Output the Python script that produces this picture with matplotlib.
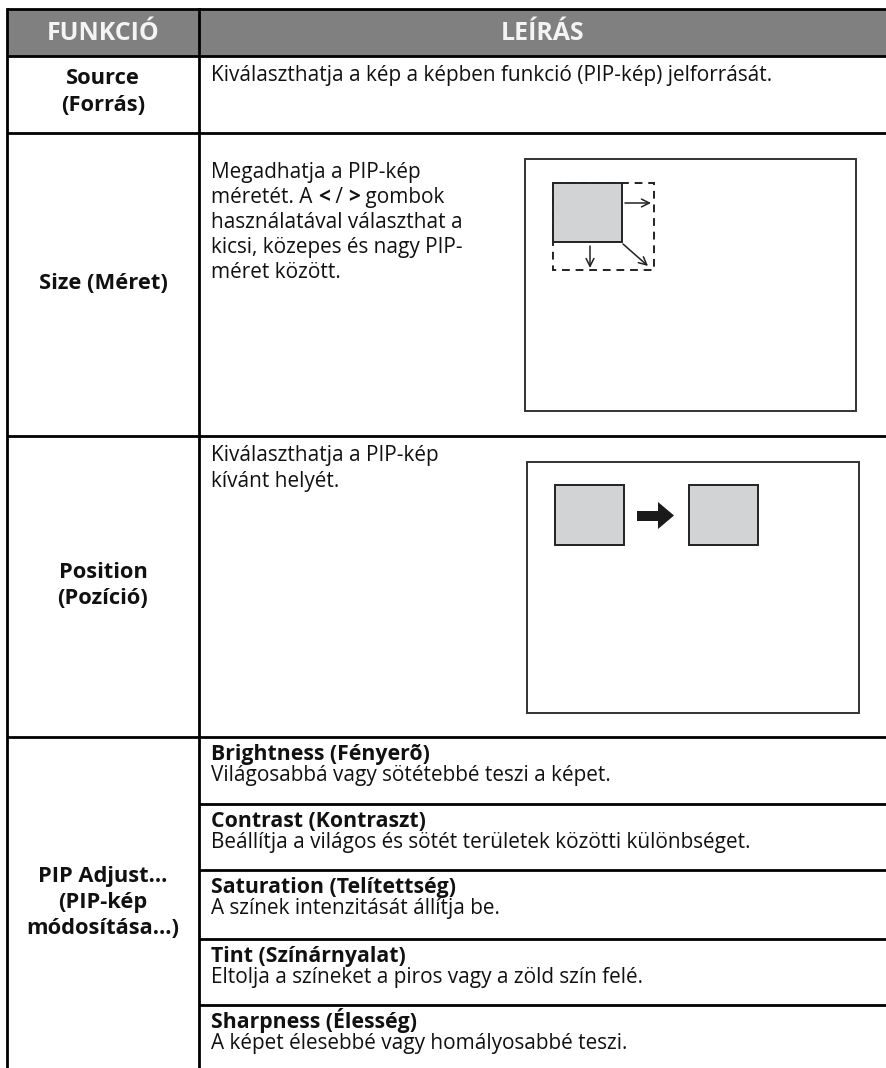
import matplotlib
matplotlib.use("Agg")
import matplotlib.pyplot as plt
from matplotlib.patches import Rectangle, Polygon

plt.rcParams['font.family'] = ['Open Sans', 'DejaVu Sans']

# ---- table content ----
headers = ["FUNKCIÓ", "LEÍRÁS"]
functions = [["Source", "(Forrás)"],
             ["Size (Méret)"],
             ["Position", "(Pozíció)"],
             ["PIP Adjust...", "(PIP-kép", "módosítása...)"]]
source_desc = "Kiválaszthatja a kép a képben funkció (PIP-kép) jelforrását."
size_desc = ["Megadhatja a PIP-kép",
             [("méretét. A ", "normal"), ("<", "bold"), (" / ", "normal"),
              (">", "bold"), (" gombok", "normal")],
             "használatával választhat a",
             "kicsi, közepes és nagy PIP-",
             "méret között."]
position_desc = ["Kiválaszthatja a PIP-kép", "kívánt helyét."]
pip_items = ["Brightness (Fényerõ)", "Contrast (Kontraszt)",
             "Saturation (Telítettség)", "Tint (Színárnyalat)",
             "Sharpness (Élesség)"]
pip_desc = ["Világosabbá vagy sötétebbé teszi a képet.",
            "Beállítja a világos és sötét területek közötti különbséget.",
            "A színek intenzitását állítja be.",
            "Eltolja a színeket a piros vagy a zöld szín felé.",
            "A képet élesebbé vagy homályosabbé teszi."]

# ---- layout (pixels) ----
W, H = 886, 1068
x_left, x_div, x_text = 7, 199, 211
row_edges = [9, 56, 133, 436, 737]
sub_edges = [737, 804, 870, 939, 1005]
col1_x = (x_left + x_div) / 2
TXT = '#111111'

fig = plt.figure(figsize=(W / 100, H / 100), dpi=100)
ax = fig.add_axes([0, 0, 1, 1])
ax.set_xlim(0, W)
ax.set_ylim(H, 0)
ax.axis('off')
renderer = fig.canvas.get_renderer()


def fit_size(s, weight, target_px, base=12):
    # font size that makes string s about target_px wide
    t = ax.text(0, 0, s, fontsize=base, fontweight=weight)
    w = t.get_window_extent(renderer=renderer).width
    t.remove()
    return base * target_px / w


FS = fit_size(source_desc, 'normal', 558)
FS_B = fit_size(pip_items[0], 'bold', 218)
FS_C1 = fit_size(functions[1][0], 'bold', 128)
FS_HEAD = fit_size(headers[0], 'bold', 112)

# header
ax.add_patch(Rectangle((x_left, row_edges[0]), W - x_left, row_edges[1] - row_edges[0],
                       facecolor='#808080', edgecolor='none'))
ax.text(col1_x, 33, headers[0], ha='center', va='center', color='#f4f4f4',
        fontsize=FS_HEAD, fontweight='bold')
ax.text((x_div + W) / 2, 33, headers[1], ha='center', va='center', color='#f4f4f4',
        fontsize=FS_HEAD, fontweight='bold')

# grid lines
lw = 2.0
for y in row_edges:
    ax.plot([x_left, W], [y, y], color='black', lw=lw, solid_capstyle='butt')
for y in sub_edges[1:]:
    ax.plot([x_div, W], [y, y], color='black', lw=lw, solid_capstyle='butt')
ax.plot([x_left, x_left], [row_edges[0], H], color='black', lw=lw)
ax.plot([x_div, x_div], [row_edges[0], H], color='black', lw=lw)

# first column labels
col1_baselines = [[84, 111], [289], [578, 604], [882, 908, 934]]
for labels, ys in zip(functions, col1_baselines):
    for lab, y in zip(labels, ys):
        ax.text(col1_x, y, lab, ha='center', va='baseline', fontsize=FS_C1,
                fontweight='bold', color=TXT)

# descriptions
ax.text(x_text, 81, source_desc, va='baseline', fontsize=FS, color=TXT)

for i, line in enumerate(size_desc):
    y = 178 + 25 * i
    if isinstance(line, str):
        ax.text(x_text, y, line, va='baseline', fontsize=FS, color=TXT)
    else:
        x = x_text
        for piece, wt in line:
            t = ax.text(x, y, piece, va='baseline', fontsize=FS, fontweight=wt, color=TXT)
            x += t.get_window_extent(renderer=renderer).width

for i, line in enumerate(position_desc):
    ax.text(x_text, 461 + 26 * i, line, va='baseline', fontsize=FS, color=TXT)

for top, title, desc in zip(sub_edges, pip_items, pip_desc):
    ax.text(x_text, top + 23, title, va='baseline', fontsize=FS_B, fontweight='bold',
            color=TXT)
    ax.text(x_text, top + 44, desc, va='baseline', fontsize=FS, color=TXT)

# ---- size diagram ----
frame_c = '#333333'
ax.add_patch(Rectangle((525, 159), 331, 252, fill=False, edgecolor=frame_c, lw=1.4))
ax.add_patch(Rectangle((553, 183), 101, 87, fill=False, edgecolor='#222222', lw=1.4,
                       linestyle=(0, (4, 3))))
ax.add_patch(Rectangle((553, 183), 69, 59, facecolor='#d1d3d4', edgecolor='#222222', lw=1.4))
arrow_kw = dict(arrowstyle='->', color='#222222', lw=1.1, mutation_scale=14,
                shrinkA=0, shrinkB=0)
ax.annotate('', xy=(651, 203), xytext=(625, 203), arrowprops=arrow_kw)
ax.annotate('', xy=(590, 268), xytext=(590, 246), arrowprops=arrow_kw)
ax.annotate('', xy=(648, 266), xytext=(623, 244), arrowprops=arrow_kw)

# ---- position diagram ----
ax.add_patch(Rectangle((527, 462), 332, 251, fill=False, edgecolor=frame_c, lw=1.4))
ax.add_patch(Rectangle((555, 485), 69, 60, facecolor='#d1d3d4', edgecolor='#222222', lw=1.4))
ax.add_patch(Rectangle((689, 485), 69, 60, facecolor='#d1d3d4', edgecolor='#222222', lw=1.4))
ax.add_patch(Polygon([(637, 511), (658, 511), (658, 502), (674, 515.5), (658, 529),
                      (658, 521), (637, 521)], closed=True, facecolor='#1a1a1a',
                     edgecolor='none'))

fig.savefig('out.png', dpi=100)
